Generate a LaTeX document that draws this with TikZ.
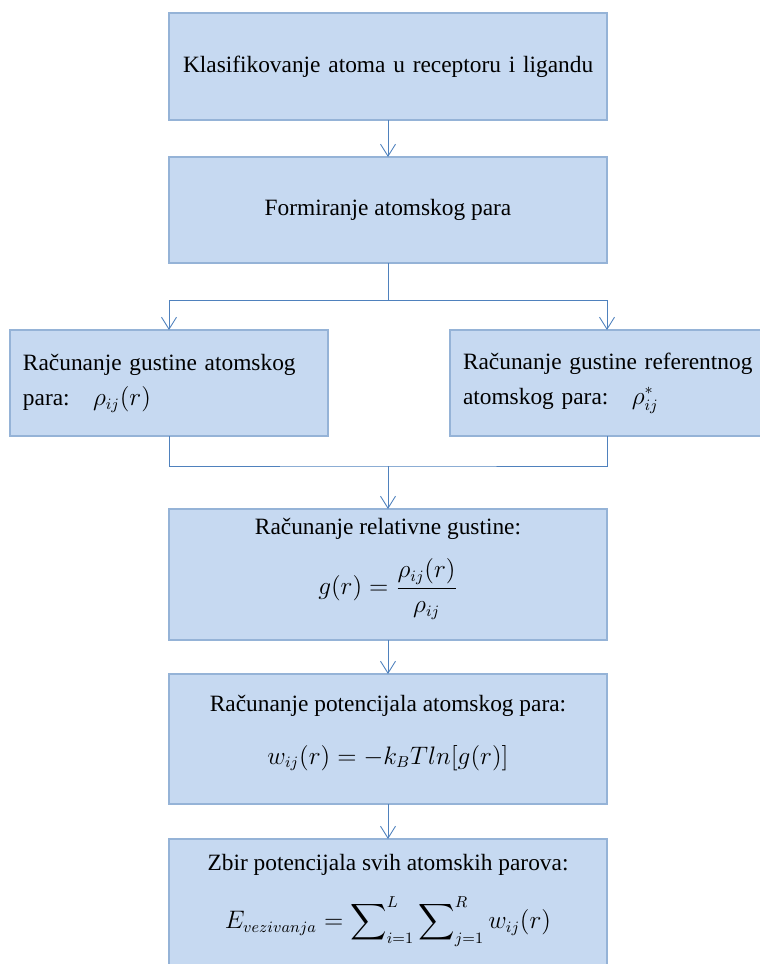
\documentclass[tikz,border=0pt]{standalone}
\usepackage{amsmath}
\usepackage{fontspec}
\setmainfont{Liberation Serif}
\usepackage{tikz}
\usetikzlibrary{positioning,arrows.meta,calc}

\definecolor{boxfill}{RGB}{198,217,241}
\definecolor{boxline}{RGB}{149,179,215}
\definecolor{flowline}{RGB}{79,129,189}

\begin{document}
\begin{tikzpicture}[
    box/.style={draw=boxline, fill=boxfill, line width=1pt, minimum width=8.76cm, inner sep=0pt, outer sep=0pt, align=center},
    sidebox/.style={box, minimum height=2.12cm, align=left},
    head/.style={anchor=base, inner sep=0pt},
    formula/.style={inner sep=0pt},
    flow/.style={flowline, line width=0.5pt},
    tip/.style={-{Straight Barb[length=2.4mm,width=3mm]}},
    font=\fontsize{13.3}{18.5}\selectfont]

    \useasboundingbox (0,0) rectangle (15.18,-19.28);

    \node[box, minimum height=2.14cm, text width=8.2cm, align=left, anchor=north] (classify) at (7.76,-0.26)
        {\mbox{Klasifikovanje atoma u receptoru i ligandu}};
    \node[box, minimum height=2.12cm] (pair) [below=0.74cm of classify] {Formiranje atomskog para};

    \coordinate[below=0.74cm of pair] (split);

    \node[sidebox, minimum width=6.36cm, text width=5.84cm] (leftpair) [below=1.34cm of pair.south west]
        {\mbox{Računanje gustine atomskog}\\[0.5mm] \mbox{para:\quad $\rho_{ij}(r)$}};
    \node[sidebox, minimum width=6.28cm, text width=5.76cm] (rightpair) [below=1.34cm of pair.south east]
        {\mbox{Računanje gustine referentnog}\\[0.5mm] \mbox{atomskog para:\quad $\rho^{*}_{ij}$}};

    \coordinate (merge) at ($(pair.south |- leftpair.south)+(0,-0.6)$);

    \node[box, minimum height=2.62cm] (relative) [below=0.86cm of merge] {};
    \node[box, minimum height=2.6cm] (potential) [below=0.68cm of relative] {};
    \node[box, minimum height=2.6cm] (total) [below=0.7cm of potential] {};

    \node[head] (relativehead) at ($(relative.north)+(0,-0.5)$) {Računanje relativne gustine:};
    \node[formula] (relativeformula) at ($(relative.north)+(0,-1.6)$) {$g(r)=\dfrac{\rho_{ij}(r)}{\rho_{ij}}$};

    \node[head] (potentialhead) at ($(potential.north)+(0,-0.74)$) {Računanje potencijala atomskog para:};
    \node[formula] (potentialformula) at ($(potential.north)+(0,-1.68)$) {$w_{ij}(r)=-k_B Tln[g(r)]$};

    \node[head] (totalhead) at ($(total.north)+(0,-0.62)$) {Zbir potencijala svih atomskih parova:};
    \node[formula] (totalformula) at ($(total.north)+(0,-1.66)$) {$E_{vezivanja}=\displaystyle\sum\nolimits_{i=1}^{L}\sum\nolimits_{j=1}^{R} w_{ij}(r)$};

    \path[flow, tip]
        (classify) edge (pair)
        (merge) edge (relative)
        (relative) edge (potential)
        (potential) edge (total);

    \draw[flow] (pair.south) -- (split);
    \draw[flow, tip] (split) -| (leftpair.north);
    \draw[flow, tip] (split) -| (rightpair.north);
    \draw[flow] (leftpair.south) |- (merge) -| (rightpair.south);

\end{tikzpicture}
\end{document}
